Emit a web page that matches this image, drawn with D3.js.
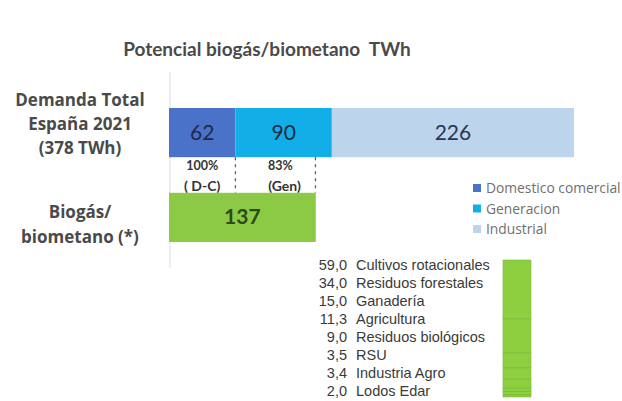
<!DOCTYPE html>
<html>
<head>
<meta charset="utf-8">
<script src="https://cdn.jsdelivr.net/npm/d3@7"></script>
<style>
  body { margin: 0; background: #fff; }
  svg { display: block; }
</style>
</head>
<body>
<div id="chart"></div>
<script>
// demand split (TWh)
var demandCats = ["Domestico comercial", "Generacion", "Industrial"];
var demandVals = [62, 90, 226];
var demandColors = ["#4a72c8", "#12aee8", "#bcd5ec"];
// share covered by biogas over each segment
var coverShare = [1, 0.83];
var coverLabels = [["100%", "( D-C)"], ["83%", "(Gen)"]];
var biogasTotal = 137;
// biogas sources
var srcNames = ["Cultivos rotacionales", "Residuos forestales", "Ganadería", "Agricultura",
                "Residuos biológicos", "RSU", "Industria Agro", "Lodos Edar"];
var srcVals = [59.0, 34.0, 15.0, 11.3, 9.0, 3.5, 3.4, 2.0];

var W = 622, H = 401;
var calib = "Lato, 'Open Sans', sans-serif";
var arial = "'Liberation Sans', Arial, sans-serif";

var svg = d3.select("#chart").append("svg")
    .attr("width", W).attr("height", H);

// title
svg.append("text")
    .attr("x", 267).attr("y", 56)
    .attr("text-anchor", "middle")
    .style("white-space", "pre")
    .style("font-family", calib).style("font-weight", "bold")
    .style("font-size", "19px").style("fill", "#4a4a4a")
    .text("Potencial biogás/biometano  TWh");

// horizontal scale, all bars share it
var x = d3.scaleLinear()
    .domain([0, d3.sum(demandVals)])
    .range([169, 574]);

var y = d3.scaleBand()
    .domain(["demanda", "biogas"])
    .range([108, 242])
    .paddingInner(0.42);

// faint axis line
svg.append("line")
    .attr("x1", 170).attr("x2", 170)
    .attr("y1", 72).attr("y2", 268)
    .attr("stroke", "#e2e2e2").attr("stroke-width", 1.2);

// stacked demand bar
var starts = d3.cumsum([0].concat(demandVals));
var segs = demandVals.map(function(v, i){ return {v: v, s: starts[i], c: demandColors[i]}; });

var g1 = svg.append("g");
g1.selectAll("rect").data(segs).enter().append("rect")
    .attr("x", function(d){ return x(d.s); })
    .attr("y", y("demanda"))
    .attr("width", function(d){ return x(d.s + d.v) - x(d.s); })
    .attr("height", y.bandwidth())
    .attr("fill", function(d){ return d.c; });

g1.selectAll("text").data(segs).enter().append("text")
    .attr("x", function(d){ return x(d.s + d.v / 2); })
    .attr("y", y("demanda") + y.bandwidth() / 2 + 7)
    .attr("text-anchor", "middle")
    .style("font-family", calib).style("font-size", "21px")
    .style("fill", function(d, i){ return i == 2 ? "#2b3550" : "#1f2a44"; })
    .text(function(d){ return d.v; });

// dashed markers: end of each covered part
var coverEnds = coverShare.map(function(p, i){ return starts[i] + p * demandVals[i]; });
svg.selectAll(".dash").data(coverEnds).enter().append("line")
    .attr("class", "dash")
    .attr("x1", function(d){ return x(d); })
    .attr("x2", function(d){ return x(d); })
    .attr("y1", y("demanda") + y.bandwidth())
    .attr("y2", y("biogas"))
    .attr("stroke", "#4a5a9a").attr("stroke-width", 1.3)
    .attr("stroke-dasharray", "3,4");

// percentage labels between the bars
coverLabels.forEach(function(lbl, i){
    var cx = x(starts[i] + coverShare[i] * demandVals[i] / 2);
    lbl.forEach(function(t, j){
        svg.append("text")
            .attr("x", i == 0 ? cx : cx + 5 + j * 4).attr("y", 170 + j * 21)
            .attr("text-anchor", "middle")
            .style("white-space", "pre")
            .style("font-family", calib).style("font-weight", "bold")
            .style("font-size", j == 0 ? "12.5px" : "14px").style("fill", "#333")
            .text(t);
    });
});

// biogas bar
svg.append("rect")
    .attr("x", x(0)).attr("y", y("biogas"))
    .attr("width", x(biogasTotal) - x(0))
    .attr("height", y.bandwidth())
    .attr("fill", "#8cc944");
svg.append("text")
    .attr("x", x(biogasTotal / 2)).attr("y", y("biogas") + y.bandwidth() / 2 + 7)
    .attr("text-anchor", "middle")
    .style("font-family", calib).style("font-size", "21px").style("font-weight", "bold")
    .style("fill", "#2c4a1e")
    .text(biogasTotal);

// row labels on the left
var leftLabels = [
    {t: "Demanda Total", y: 106}, {t: "España 2021", y: 130}, {t: "(378 TWh)", y: 154},
    {t: "Biogás/", y: 218}, {t: "biometano (*)", y: 243}
];
svg.selectAll(".lbl").data(leftLabels).enter().append("text")
    .attr("class", "lbl")
    .attr("x", 80).attr("y", function(d){ return d.y; })
    .attr("text-anchor", "middle")
    .style("font-family", "'Open Sans', sans-serif").style("font-weight", "bold")
    .style("font-size", "17px").style("fill", "#4a4a4a")
    .text(function(d){ return d.t; });

// legend
var lg = svg.append("g").attr("transform", "translate(473,181)");
demandCats.forEach(function(c, i){
    lg.append("rect").attr("x", 0).attr("y", i * 20.5 + 3)
        .attr("width", 8).attr("height", 8).attr("fill", demandColors[i]);
    lg.append("text").attr("x", 13).attr("y", i * 20.5 + 12)
        .style("font-family", "'Open Sans', sans-serif").style("font-size", "13.8px").style("fill", "#707070")
        .text(c);
});

// sources stack (vertical)
var sy = d3.scaleLinear()
    .domain([0, d3.sum(srcVals)])
    .range([260, 397]);
var sStarts = d3.cumsum([0].concat(srcVals));
svg.append("g").selectAll("rect").data(srcVals).enter().append("rect")
    .attr("x", 503).attr("width", 28)
    .attr("y", function(d, i){ return sy(sStarts[i]); })
    .attr("height", function(d, i){ return sy(sStarts[i] + d) - sy(sStarts[i]); })
    .attr("fill", "#8dcf3f")
    .attr("stroke", "#7ab83a").attr("stroke-width", 0.6);

var rows = d3.scaleBand().domain(srcNames).range([256, 400]);
var fmt = function(v){ return v.toFixed(1).replace(".", ","); };
var sl = svg.append("g");
srcNames.forEach(function(n, i){
    var yy = rows(n) + rows.bandwidth() / 2 + 5;
    sl.append("text").attr("x", 347).attr("y", yy)
        .attr("text-anchor", "end")
        .style("font-family", arial)
        .style("font-size", "14.5px").style("fill", "#3a3a3a")
        .text(fmt(srcVals[i]));
    sl.append("text").attr("x", 356).attr("y", yy)
        .style("font-family", arial)
        .style("font-size", "14.5px").style("fill", "#3a3a3a")
        .text(n);
});
</script>
</body>
</html>
